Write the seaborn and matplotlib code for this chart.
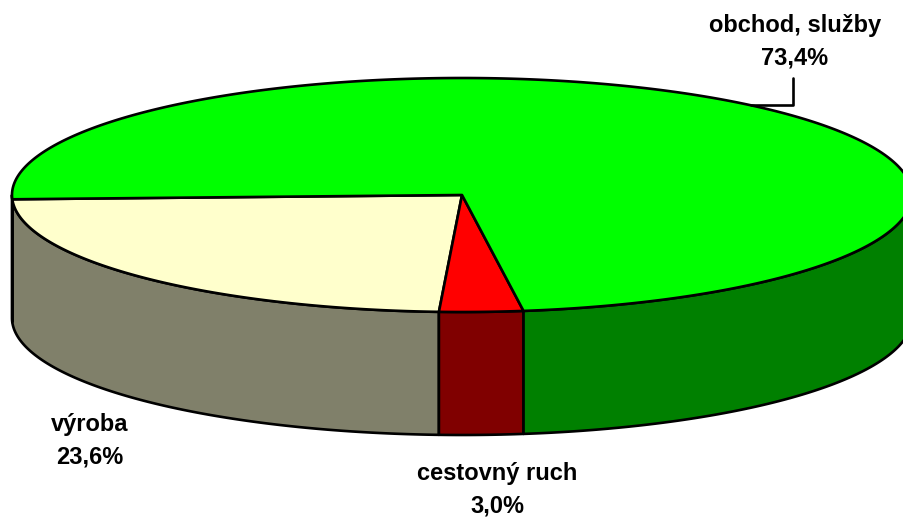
import numpy as np
import matplotlib
matplotlib.use("Agg")
import matplotlib.pyplot as plt
from matplotlib.patches import Polygon
import seaborn as sns

# data
labels = ['výroba', 'cestovný ruch', 'obchod, služby']
shares = [23.6, 3.0, 73.4]
pct_text = ['23,6%', '3,0%', '73,4%']
top_colors = ['#FFFFCC', '#FF0000', '#00FF00']
side_colors = ['#80806A', '#800000', '#008000']

sns.set_theme(style="white")
plt.rcParams['font.family'] = ['Liberation Sans', 'DejaVu Sans']

# ellipse geometry (pixels)
cx, cy = 462, 195
rx, ry = 450, 117
depth = 123
start = 182.1


def pt(t, dy=0.0):
    t = np.radians(t)
    return cx + rx * np.cos(t), cy - ry * np.sin(t) + dy


def arc(t0, t1, dy=0.0):
    n = max(int(abs(t1 - t0)) * 2, 2)
    ts = np.linspace(t0, t1, n)
    return [pt(t, dy) for t in ts]


fig = plt.figure(figsize=(9.04, 5.23), dpi=100)
ax = fig.add_axes([0, 0, 1, 1])
ax.set_xlim(0, 904)
ax.set_ylim(523, 0)
ax.axis('off')

fr = np.array(shares) / sum(shares)
bounds = start + np.concatenate([[0], np.cumsum(fr)]) * 360

# side walls (front half only)
for i in range(len(shares)):
    t0, t1 = bounds[i], bounds[i + 1]
    for lo, hi in [(180, 360), (540, 720)]:
        a, b = max(t0, lo), min(t1, hi)
        if b > a:
            poly = arc(a, b) + arc(b, a, depth)
            ax.add_patch(Polygon(poly, closed=True, facecolor=side_colors[i],
                                 edgecolor='black', lw=1.9, joinstyle='round'))

# top faces
for i in range(len(shares)):
    t0, t1 = bounds[i], bounds[i + 1]
    poly = [(cx, cy)] + arc(t0, t1)
    ax.add_patch(Polygon(poly, closed=True, facecolor=top_colors[i],
                         edgecolor='black', lw=1.9, joinstyle='round'))

# labels
kw = dict(fontsize=17, fontweight='bold', ha='center', va='center',
          color='black', linespacing=1.55)
ax.text(90, 441, labels[0] + '\n' + pct_text[0], **kw)
ax.text(497, 490, labels[1] + '\n' + pct_text[1], **kw)
ax.text(795, 42, labels[2] + '\n' + pct_text[2], **kw)

# leader line for the big slice
ax0, ay0 = pt(50)
ax.plot([ax0, 793, 793], [ay0, ay0, 78], color='black', lw=1.9)

fig.savefig('out.png', dpi=100)
